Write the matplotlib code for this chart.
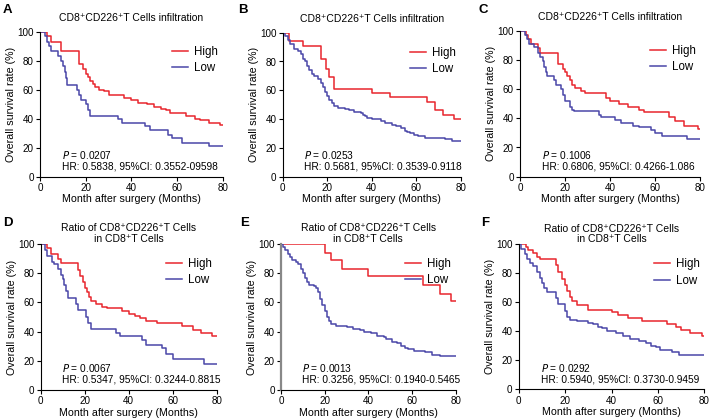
import matplotlib
matplotlib.use('Agg')
import matplotlib.pyplot as plt

plt.rcParams['font.family'] = ['Liberation Sans', 'DejaVu Sans']

# ---- data ----
a_high_t = [0, 3, 5, 9, 17, 19, 20, 21, 22, 23, 24, 26, 28, 30, 37, 40, 43, 47, 50, 53, 55, 57, 64, 68, 70, 74, 79, 80]
a_high_s = [100, 97, 93, 87, 78, 74, 71, 69, 66, 64, 62, 60, 59, 56, 54, 53, 51, 50, 48, 47, 46, 44, 42, 40, 39, 37, 36, 36]
a_low_t = [0, 2, 3, 4, 5, 8, 9, 10, 11, 11.5, 12, 16, 17, 18, 20, 21, 22, 34, 36, 46, 48, 56, 58, 62, 74, 80]
a_low_s = [100, 97, 93, 90, 87, 83, 80, 76, 72, 68, 63, 60, 56, 53, 50, 46, 42, 40, 37, 35, 32, 29, 27, 23, 21, 21]

b_high_t = [0, 3, 9, 17, 19.5, 21, 23, 40, 48, 65, 68.5, 72, 77, 80]
b_high_s = [100, 94, 91, 82, 75, 69, 61, 58, 55, 52, 46, 43, 40, 40]
b_low_t = [0, 1, 2.5, 3.5, 5, 7, 8, 9, 10, 11, 12, 13, 14, 16, 17, 18, 19, 20, 21, 22, 23, 25, 28, 30, 32, 35, 36, 37, 38, 40,
           44, 46, 49, 51, 53, 55, 56, 57, 59, 61, 64, 73, 76, 80]
b_low_s = [100, 98, 95, 92, 89, 87, 85, 82, 80, 77, 74, 71, 70, 68, 65, 62, 59, 56, 53, 51, 49, 48, 47, 46, 45, 44, 43, 42, 41, 40,
           39, 37, 36, 35, 34, 32, 31, 30, 29, 28, 27, 26, 25, 25]

c_high_t = [0, 2.5, 3.5, 5, 8, 9, 17, 19, 20, 21, 22, 23, 24.5, 27, 29, 38, 40, 44, 48, 53, 55, 66, 69, 73, 79, 80]
c_high_s = [100, 97, 94, 91, 88, 85, 77, 74, 72, 69, 66, 63, 61, 59, 57, 54, 52, 50, 48, 46, 44, 41, 38, 35, 33, 33]
c_low_t = [0, 2, 3, 4, 6, 8, 9, 10, 10.5, 11.5, 12, 15, 16, 18, 19, 20, 22, 23, 24, 35, 36, 42, 45, 50, 53, 58, 60, 63, 74, 80]
c_low_s = [100, 97, 94, 91, 89, 85, 82, 79, 75, 72, 69, 66, 63, 60, 56, 52, 48, 46, 45, 42, 41, 39, 37, 35, 34, 32, 30, 28, 26, 26]

d_high_t = [0, 3, 4.5, 8, 9, 17, 18, 19, 20, 21, 22, 23, 25, 28, 30, 37, 40, 43, 45, 48, 53, 64, 69, 73, 78, 80]
d_high_s = [100, 97, 93, 90, 87, 82, 78, 74, 70, 67, 64, 61, 59, 57, 56, 54, 52, 51, 49, 47, 46, 44, 41, 39, 37, 37]
d_low_t = [0, 2, 3, 5, 6, 8, 9, 10, 10.5, 11.5, 12.5, 16, 17, 20.5, 21.5, 23, 34, 36, 46, 48, 55, 57, 60, 74, 80]
d_low_s = [100, 96, 92, 88, 86, 83, 79, 76, 72, 68, 63, 59, 55, 50, 46, 42, 39, 37, 34, 31, 29, 25, 21, 18, 18]

e_high_t = [0, 20, 23, 28, 40, 65, 73, 78, 80]
e_high_s = [100, 94, 89, 83, 78, 72, 66, 61, 61]
e_low_t = [0, 1, 2, 3, 4, 5, 7, 8, 9, 10, 11, 12, 13, 15, 16, 17, 18, 19, 20, 21, 22, 23, 25, 30, 33, 36, 38, 41, 44, 47, 48,
           51, 53, 55, 57, 58, 61, 66, 69, 73, 80]
e_low_s = [100, 98, 96, 93, 91, 89, 88, 86, 83, 80, 77, 74, 72, 71, 70, 67, 62, 58, 54, 50, 47, 45, 44, 43, 42, 41, 40, 39, 37, 36, 35,
           33, 32, 30, 29, 28, 27, 26, 24, 23, 23]

f_high_t = [0, 3, 4, 6, 8, 9, 16, 17, 18.5, 20, 21, 22, 23, 25, 30, 40, 43, 47, 53, 64, 68, 70, 74, 79, 80]
f_high_s = [100, 98, 96, 94, 91, 90, 86, 81, 76, 72, 68, 64, 61, 58, 55, 53, 51, 49, 47, 45, 43, 41, 39, 37, 37]
f_low_t = [0, 1, 2.5, 3.5, 5, 6, 8, 9, 10, 11, 12, 16, 17, 20, 21, 22, 25, 30, 32, 34, 36, 38, 42, 45, 48, 52, 55, 57, 59, 61,
           66, 69, 80]
f_low_s = [100, 97, 93, 90, 87, 85, 81, 77, 73, 70, 67, 63, 59, 54, 50, 48, 47, 46, 45, 43, 42, 40, 39, 37, 35, 33, 32, 30, 29, 27,
           26, 24, 24]

labels = ['A', 'B', 'C', 'D', 'E', 'F']
title_top = 'CD8\u207aCD226\u207aT Cells infiltration'
title_bot = 'Ratio of CD8\u207aCD226\u207aT Cells\nin CD8\u207aT Cells'
p_vals = ['0.0207', '0.0253', '0.1006', '0.0067', '0.0013', '0.0292']
hr_txt = ['HR: 0.5838, 95%CI: 0.3552-09598',
          'HR: 0.5681, 95%CI: 0.3539-0.9118',
          'HR: 0.6806, 95%CI: 0.4266-1.086',
          'HR: 0.5347, 95%CI: 0.3244-0.8815',
          'HR: 0.3256, 95%CI: 0.1940-0.5465',
          'HR: 0.5940, 95%CI: 0.3730-0.9459']
highs = [(a_high_t, a_high_s), (b_high_t, b_high_s), (c_high_t, c_high_s),
         (d_high_t, d_high_s), (e_high_t, e_high_s), (f_high_t, f_high_s)]
lows = [(a_low_t, a_low_s), (b_low_t, b_low_s), (c_low_t, c_low_s),
        (d_low_t, d_low_s), (e_low_t, e_low_s), (f_low_t, f_low_s)]

RED = '#e8262d'
BLUE = '#4a47a8'

W, H = 709, 419
fig = plt.figure(figsize=(W / 100, H / 100), dpi=100)

# axes boxes in pixels: left, top, right, bottom
boxes = [(40, 31.7, 222.7, 176.7), (282.7, 32.7, 460.7, 176.7), (520, 30.7, 700, 176.7),
         (40.7, 244, 216.7, 390), (281, 244, 455.7, 390), (518.7, 244.3, 704.3, 389.3)]
label_pos = [(3, 10), (238, 10), (479, 10), (3, 223), (240, 223), (481, 223)]

for i in range(6):
    l, t, r, b = boxes[i]
    ax = fig.add_axes([l / W, 1 - b / H, (r - l) / W, (b - t) / H])
    ht, hs = highs[i]
    lt, ls = lows[i]
    ax.step(ht, hs, where='post', color=RED, lw=1.1, label='High')
    ax.step(lt, ls, where='post', color=BLUE, lw=1.1, label='Low')
    ax.set_xlim(0, 80)
    ax.set_ylim(0, 100)
    ax.set_xticks([0, 20, 40, 60, 80])
    ax.set_yticks([0, 20, 40, 60, 80, 100])
    ax.spines['top'].set_visible(False)
    ax.spines['right'].set_visible(False)
    if i == 4:
        ax.spines['left'].set_color('#888888')
        ax.spines['left'].set_linewidth(1.6)
    ax.tick_params(labelsize=7.1, length=3, width=0.8, pad=1.5)
    ax.set_xlabel('Month after surgery (Months)', fontsize=7.7, labelpad=1)
    ax.set_ylabel('Overall survival rate (%)', fontsize=7.7, labelpad=1)
    if i < 3:
        ax.set_title(title_top, fontsize=7.5, pad=8)
    else:
        ax.set_title(title_bot, fontsize=7.5, pad=0.5, linespacing=1.1)
    ax.text(0.12, 0.15, '$P$ = ' + p_vals[i], transform=ax.transAxes, fontsize=7.3, va='center')
    ax.text(0.12, 0.07, hr_txt[i], transform=ax.transAxes, fontsize=7.3, va='center')
    ax.legend(loc='upper right', bbox_to_anchor=(1.0, 0.935), frameon=False, fontsize=8.3,
              handlelength=1.4, handletextpad=0.5, labelspacing=0.38, borderaxespad=0)
    fig.text(label_pos[i][0] / W, 1 - label_pos[i][1] / H, labels[i], fontsize=9.5,
             fontweight='bold', va='center', ha='left')

fig.savefig('out.png', dpi=100)
